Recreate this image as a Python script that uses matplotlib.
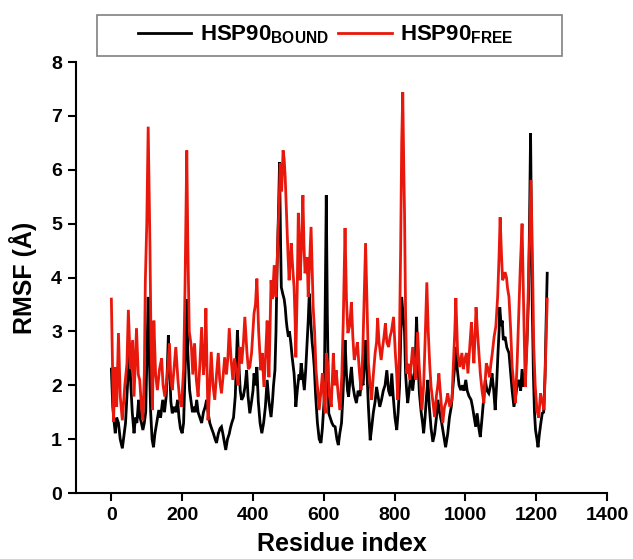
import matplotlib
matplotlib.use("Agg")
import matplotlib.pyplot as plt
from matplotlib.patches import Rectangle

# ---- data ----
free_res = [0, 6, 11, 15, 20, 25, 31, 38, 44, 48, 54, 60, 64, 71, 76, 80, 85, 89, 93, 96, 100, 104, 107, 109, 112, 116, 120, 125, 130, 136, 142, 146, 151, 158, 164, 168, 172, 177, 182, 188, 193, 198, 204, 208, 211, 213, 216, 220, 226, 230, 235, 240, 245, 250, 255, 260, 264, 267, 270, 273, 278, 282, 287, 292, 297, 302, 306, 311, 316, 320, 325, 329, 333, 338, 343, 348, 354, 358, 363, 368, 373, 377, 383, 387, 391, 396, 400, 403, 407, 411, 416, 422, 426, 431, 436, 440, 445, 448, 451, 455, 460, 465, 468, 471, 474, 477, 481, 485, 488, 491, 496, 499, 502, 505, 508, 512, 516, 519, 521, 525, 528, 531, 533, 537, 541, 544, 547, 550, 553, 556, 560, 564, 567, 570, 574, 578, 583, 587, 592, 596, 600, 604, 607, 611, 616, 621, 627, 631, 635, 641, 646, 651, 655, 660, 664, 668, 673, 678, 682, 686, 690, 695, 700, 705, 710, 714, 718, 722, 726, 731, 735, 740, 745, 749, 752, 756, 762, 766, 770, 774, 778, 783, 787, 791, 797, 802, 806, 809, 813, 817, 820, 823, 826, 828, 831, 834, 838, 843, 847, 851, 855, 859, 865, 869, 873, 877, 882, 886, 891, 895, 899, 903, 908, 913, 918, 922, 925, 930, 936, 941, 946, 950, 956, 962, 966, 970, 973, 978, 984, 990, 994, 998, 1003, 1007, 1012, 1017, 1020, 1024, 1027, 1030, 1034, 1038, 1042, 1047, 1052, 1056, 1059, 1064, 1068, 1072, 1076, 1081, 1086, 1091, 1095, 1098, 1102, 1105, 1108, 1112, 1116, 1119, 1123, 1128, 1132, 1137, 1141, 1146, 1151, 1155, 1160, 1164, 1169, 1173, 1176, 1180, 1185, 1189, 1193, 1197, 1202, 1207, 1212, 1217, 1222, 1226, 1231]
free_rmsf = [3.6, 1.32, 2.34, 1.6, 2.97, 1.8, 1.35, 2.0, 2.4, 3.4, 2.3, 2.84, 1.79, 3.06, 2.2, 2.1, 1.6, 1.35, 2.2, 3.95, 5.0, 6.8, 5.5, 4.57, 2.8, 1.54, 3.2, 2.2, 1.91, 2.3, 2.5, 2.0, 1.79, 2.2, 2.78, 2.1, 1.91, 2.3, 2.71, 2.1, 1.73, 1.6, 2.3, 3.8, 5.4, 6.36, 4.6, 3.0, 2.71, 2.2, 2.78, 2.1, 1.79, 2.4, 3.08, 2.2, 2.5, 3.43, 2.4, 1.35, 2.0, 2.62, 2.0, 1.73, 2.2, 2.6, 2.1, 1.85, 2.2, 2.52, 2.2, 2.5, 3.06, 2.5, 2.1, 2.5, 2.22, 2.0, 2.71, 2.4, 2.8, 3.27, 2.6, 2.3, 2.34, 2.6, 3.02, 3.34, 3.5, 3.98, 3.0, 2.28, 2.6, 1.97, 2.6, 3.2, 2.15, 3.0, 3.95, 3.6, 4.23, 3.64, 4.2, 4.88, 5.4, 6.12, 5.6, 6.36, 6.2, 5.86, 4.94, 4.4, 3.95, 4.3, 4.64, 4.2, 3.82, 3.2, 2.52, 3.8, 5.2, 4.6, 3.95, 4.6, 5.53, 4.6, 4.08, 4.2, 4.38, 3.64, 4.3, 4.94, 4.2, 3.45, 3.0, 2.28, 1.9, 1.54, 1.9, 2.22, 1.8, 1.48, 2.6, 2.4, 1.8, 1.6, 2.6, 2.0, 2.28, 1.8, 1.54, 2.2, 3.2, 4.92, 3.6, 2.97, 3.1, 3.54, 2.9, 2.47, 2.6, 2.8, 2.3, 1.91, 2.6, 3.6, 4.64, 3.5, 2.41, 2.0, 1.73, 2.2, 2.6, 2.8, 3.25, 2.8, 2.47, 2.7, 2.9, 3.15, 2.8, 2.71, 2.9, 3.0, 3.27, 2.6, 2.2, 1.73, 2.5, 4.5, 6.5, 7.44, 6.0, 5.2, 3.34, 2.22, 2.4, 2.1, 2.4, 2.71, 2.4, 2.1, 2.99, 2.4, 2.0, 1.54, 2.0, 2.8, 3.91, 3.0, 2.4, 1.97, 1.7, 1.41, 1.8, 2.0, 2.22, 1.8, 1.3, 1.6, 1.7, 1.85, 1.6, 1.73, 2.4, 3.0, 3.62, 2.6, 2.34, 2.6, 2.3, 2.47, 2.6, 2.22, 2.7, 3.17, 2.8, 2.41, 2.9, 3.45, 3.0, 2.6, 2.22, 1.9, 1.67, 2.1, 2.41, 2.3, 2.15, 2.4, 2.6, 2.9, 3.1, 3.64, 4.4, 5.12, 4.4, 3.95, 4.0, 4.1, 4.0, 3.8, 3.64, 3.0, 2.34, 2.0, 1.67, 2.4, 3.4, 4.2, 5.0, 3.6, 1.97, 2.6, 3.34, 4.4, 5.81, 4.5, 2.71, 2.0, 1.54, 1.4, 1.85, 1.7, 1.54, 2.4, 3.6]

bound_res = [0, 4, 8, 11, 15, 20, 25, 31, 36, 40, 44, 48, 51, 55, 59, 64, 68, 72, 77, 81, 85, 89, 93, 97, 100, 104, 107, 111, 115, 119, 123, 128, 134, 139, 145, 150, 155, 158, 161, 165, 168, 172, 177, 182, 187, 191, 195, 200, 204, 208, 211, 213, 216, 221, 225, 229, 233, 237, 241, 245, 250, 255, 260, 265, 269, 273, 278, 283, 288, 293, 297, 302, 307, 311, 315, 319, 323, 328, 333, 336, 340, 345, 350, 353, 356, 360, 364, 368, 373, 378, 382, 386, 391, 396, 400, 403, 407, 411, 415, 420, 425, 430, 435, 440, 445, 451, 455, 458, 462, 465, 468, 472, 475, 478, 480, 484, 488, 491, 494, 496, 500, 503, 507, 511, 516, 519, 521, 525, 530, 533, 536, 540, 545, 549, 553, 556, 559, 563, 567, 570, 573, 577, 582, 587, 592, 596, 601, 604, 607, 610, 614, 618, 623, 627, 632, 637, 641, 645, 650, 654, 657, 660, 664, 667, 670, 674, 678, 682, 687, 692, 697, 702, 707, 711, 715, 718, 722, 726, 731, 735, 740, 745, 749, 753, 758, 763, 768, 773, 778, 783, 788, 792, 796, 801, 806, 810, 814, 817, 820, 824, 828, 831, 834, 837, 841, 846, 851, 856, 859, 862, 866, 870, 875, 879, 882, 886, 890, 894, 898, 903, 908, 913, 918, 922, 927, 933, 938, 944, 950, 955, 960, 965, 969, 973, 977, 982, 987, 991, 996, 1001, 1005, 1010, 1016, 1020, 1025, 1029, 1033, 1038, 1042, 1047, 1052, 1056, 1061, 1066, 1071, 1075, 1080, 1084, 1088, 1092, 1095, 1097, 1101, 1104, 1107, 1112, 1117, 1123, 1128, 1132, 1137, 1142, 1146, 1151, 1156, 1160, 1165, 1169, 1174, 1178, 1181, 1184, 1188, 1192, 1195, 1198, 1202, 1205, 1209, 1213, 1217, 1221, 1225, 1228, 1231]
bound_rmsf = [2.3, 1.6, 1.3, 1.11, 1.4, 1.3, 1.0, 0.83, 1.1, 1.3, 1.8, 2.3, 2.62, 2.0, 1.5, 1.11, 1.4, 1.3, 1.73, 1.4, 1.3, 1.17, 1.3, 1.5, 2.4, 3.64, 2.6, 1.5, 1.0, 0.85, 1.1, 1.3, 1.54, 1.4, 1.73, 1.5, 1.8, 2.3, 2.93, 2.2, 1.7, 1.48, 1.6, 1.5, 1.73, 1.4, 1.2, 1.11, 1.3, 2.2, 3.0, 3.6, 2.6, 1.91, 1.7, 1.5, 1.6, 1.5, 1.73, 1.5, 1.4, 1.3, 1.5, 1.6, 1.73, 1.5, 1.3, 1.2, 1.11, 1.0, 0.93, 1.1, 1.2, 1.23, 1.1, 0.95, 0.8, 1.0, 1.1, 1.2, 1.3, 1.4, 1.8, 2.4, 3.02, 2.4, 1.9, 1.73, 1.8, 2.0, 2.28, 1.8, 1.48, 1.7, 1.9, 2.22, 2.0, 2.34, 1.7, 1.3, 1.11, 1.3, 1.6, 2.1, 1.7, 1.41, 1.7, 2.0, 2.28, 3.0, 4.19, 5.2, 6.14, 4.6, 3.82, 3.7, 3.6, 3.45, 3.2, 3.08, 2.9, 3.0, 2.78, 2.5, 2.22, 1.9, 1.6, 1.9, 2.2, 2.1, 2.41, 2.2, 1.91, 2.3, 2.8, 3.2, 3.7, 3.2, 2.8, 2.6, 2.34, 1.8, 1.3, 1.0, 0.93, 1.2, 1.73, 3.5, 5.53, 3.3, 1.48, 1.4, 1.3, 1.25, 1.23, 1.0, 0.89, 1.1, 1.3, 1.8, 2.3, 2.84, 2.2, 1.9, 1.79, 2.1, 2.34, 2.0, 1.8, 1.67, 1.9, 1.8, 2.1, 2.0, 2.5, 2.84, 2.2, 1.6, 0.98, 1.2, 1.5, 1.7, 1.97, 1.8, 1.6, 1.73, 1.9, 2.0, 2.28, 1.9, 1.8, 2.22, 1.8, 1.4, 1.17, 1.5, 2.0, 2.8, 3.64, 3.3, 3.0, 2.22, 1.9, 1.67, 1.9, 2.22, 1.9, 2.22, 2.6, 3.27, 2.4, 1.85, 1.5, 1.3, 1.11, 1.4, 1.8, 2.1, 1.6, 1.2, 0.95, 1.1, 1.4, 1.73, 1.5, 1.3, 1.1, 0.85, 1.1, 1.41, 1.6, 2.0, 2.3, 2.71, 2.3, 2.0, 1.91, 2.0, 1.9, 2.1, 1.9, 1.8, 1.73, 1.6, 1.4, 1.23, 1.48, 1.2, 1.04, 1.4, 1.8, 2.1, 1.9, 1.85, 2.0, 2.22, 1.9, 1.54, 2.0, 2.6, 3.0, 3.45, 3.1, 3.2, 2.84, 2.9, 2.7, 2.6, 2.2, 1.9, 1.6, 1.8, 2.0, 2.1, 1.9, 2.3, 1.97, 2.2, 2.84, 3.6, 5.0, 6.68, 3.82, 2.2, 1.5, 1.17, 1.0, 0.85, 1.1, 1.3, 1.48, 1.5, 2.2, 3.2, 4.08]

series_labels = [r"HSP90$_{\mathbf{BOUND}}$", r"HSP90$_{\mathbf{FREE}}$"]
x_ticks = [0, 200, 400, 600, 800, 1000, 1200, 1400]
y_ticks = [0, 1, 2, 3, 4, 5, 6, 7, 8]
x_label = "Residue index"
y_label = "RMSF (Å)"

# ---- styling ----
plt.rcParams["font.family"] = ["Liberation Sans", "DejaVu Sans"]
plt.rcParams["font.weight"] = "bold"
plt.rcParams["mathtext.fontset"] = "custom"
plt.rcParams["mathtext.rm"] = "Liberation Sans:bold"
plt.rcParams["mathtext.bf"] = "Liberation Sans:bold"

RED = "#e8180c"

fig = plt.figure(figsize=(6.33, 5.59), dpi=100)
ax = fig.add_axes([0.120, 0.118, 0.839, 0.771])

l1, = ax.plot(bound_res, bound_rmsf, color="black", lw=2.0, solid_joinstyle="miter")
l2, = ax.plot(free_res, free_rmsf, color=RED, lw=2.0, solid_joinstyle="miter")

ax.set_xlim(-100, 1400)
ax.set_ylim(0, 8)
ax.set_xticks(x_ticks)
ax.set_yticks(y_ticks)
for s in ["top", "right"]:
    ax.spines[s].set_visible(False)
for s in ["left", "bottom"]:
    ax.spines[s].set_linewidth(1.5)
ax.tick_params(direction="out", length=6, width=1.5, labelsize=14, pad=4)
for lab in ax.get_xticklabels() + ax.get_yticklabels():
    lab.set_fontweight("bold")
ax.set_xlabel(x_label, fontsize=18, fontweight="bold", labelpad=6)
ax.set_ylabel(y_label, fontsize=18, fontweight="bold", labelpad=10)

# legend box
fig.patches.append(Rectangle((97 / 633, 1 - 56 / 559), (562 - 97) / 633, (56 - 15) / 559,
                             transform=fig.transFigure, fill=False, edgecolor="#808080",
                             linewidth=1.2))
fig.legend([l1, l2], series_labels, loc="center", bbox_to_anchor=(326 / 633, 1 - 35 / 559),
           ncol=2, frameon=False, handlelength=2.4, columnspacing=0.4,
           handletextpad=0.4, prop={"weight": "bold", "size": 16})

fig.savefig("out.png", dpi=100)
